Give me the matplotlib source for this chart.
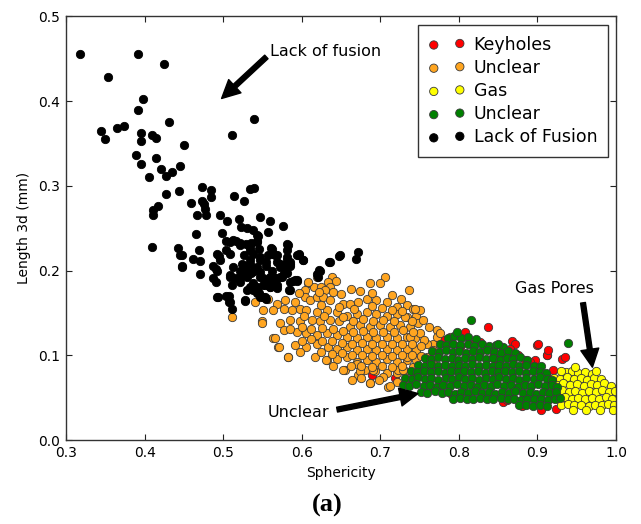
import matplotlib
matplotlib.use('Agg')
import matplotlib.pyplot as plt

# ---------------- data (sphericity, length 3d [mm]) ----------------
keyhole_pts = [
    (0.808, 0.127), (0.837, 0.134), (0.827, 0.116), (0.818, 0.114), (0.867, 0.117),
    (0.871, 0.114), (0.865, 0.108), (0.899, 0.112), (0.912, 0.100), (0.931, 0.096),
    (0.935, 0.098), (0.920, 0.083), (0.856, 0.106), (0.861, 0.102), (0.844, 0.098),
    (0.848, 0.094), (0.884, 0.094), (0.897, 0.094), (0.801, 0.110), (0.767, 0.061),
    (0.791, 0.053), (0.856, 0.045), (0.861, 0.047), (0.912, 0.075), (0.916, 0.071),
    (0.933, 0.051), (0.924, 0.037), (0.689, 0.077), (0.719, 0.073), (0.901, 0.113),
    (0.912, 0.101), (0.969, 0.071), (0.890, 0.092), (0.875, 0.100), (0.880, 0.040),
    (0.905, 0.035), (0.780, 0.118), (0.945, 0.060), (0.913, 0.106),
]

unclear_orange_pts = [
    (0.638, 0.193), (0.644, 0.188), (0.634, 0.187), (0.706, 0.192), (0.700, 0.185), (0.687, 0.185),
    (0.737, 0.177), (0.674, 0.176), (0.608, 0.185), (0.615, 0.181), (0.604, 0.177), (0.625, 0.181),
    (0.636, 0.181), (0.630, 0.177), (0.640, 0.175), (0.604, 0.169), (0.611, 0.165), (0.619, 0.169),
    (0.627, 0.169), (0.636, 0.165), (0.591, 0.163), (0.579, 0.165), (0.568, 0.161), (0.557, 0.167),
    (0.541, 0.163), (0.653, 0.161), (0.661, 0.161), (0.672, 0.163), (0.683, 0.167), (0.695, 0.165),
    (0.708, 0.163), (0.721, 0.157), (0.734, 0.159), (0.742, 0.155), (0.746, 0.147), (0.551, 0.153),
    (0.564, 0.153), (0.577, 0.155), (0.587, 0.153), (0.598, 0.155), (0.606, 0.153), (0.619, 0.151),
    (0.632, 0.153), (0.645, 0.151), (0.657, 0.147), (0.670, 0.149), (0.683, 0.151), (0.695, 0.149),
    (0.708, 0.147), (0.721, 0.149), (0.734, 0.145), (0.549, 0.140), (0.572, 0.138), (0.585, 0.142),
    (0.598, 0.140), (0.613, 0.142), (0.623, 0.140), (0.636, 0.142), (0.647, 0.140), (0.661, 0.134),
    (0.674, 0.136), (0.687, 0.134), (0.700, 0.136), (0.712, 0.134), (0.725, 0.136), (0.738, 0.134),
    (0.748, 0.138), (0.564, 0.120), (0.577, 0.130), (0.594, 0.128), (0.606, 0.126), (0.619, 0.124),
    (0.632, 0.126), (0.645, 0.124), (0.657, 0.122), (0.670, 0.120), (0.683, 0.122), (0.695, 0.120),
    (0.708, 0.122), (0.721, 0.120), (0.734, 0.122), (0.744, 0.120), (0.570, 0.110), (0.591, 0.112),
    (0.606, 0.110), (0.619, 0.114), (0.634, 0.110), (0.645, 0.108), (0.657, 0.110), (0.670, 0.106),
    (0.683, 0.108), (0.695, 0.106), (0.708, 0.108), (0.721, 0.106), (0.734, 0.108), (0.746, 0.106),
    (0.583, 0.098), (0.617, 0.098), (0.632, 0.094), (0.645, 0.096), (0.657, 0.098), (0.670, 0.092),
    (0.683, 0.094), (0.695, 0.092), (0.708, 0.096), (0.721, 0.092), (0.734, 0.094), (0.655, 0.083),
    (0.672, 0.077), (0.681, 0.083), (0.693, 0.081), (0.708, 0.079), (0.721, 0.079), (0.731, 0.081),
    (0.687, 0.068), (0.710, 0.063), (0.721, 0.069), (0.511, 0.145), (0.549, 0.138), (0.571, 0.110),
    (0.582, 0.098), (0.566, 0.121), (0.619, 0.193), (0.608, 0.187), (0.631, 0.095), (0.653, 0.083),
    (0.670, 0.090), (0.687, 0.067), (0.712, 0.064), (0.674, 0.081), (0.691, 0.083), (0.704, 0.075),
    (0.723, 0.083), (0.742, 0.086), (0.759, 0.090), (0.772, 0.130), (0.767, 0.114), (0.751, 0.153),
    (0.744, 0.155), (0.731, 0.145), (0.772, 0.122), (0.776, 0.126), (0.729, 0.130), (0.738, 0.122),
    (0.751, 0.126), (0.759, 0.114), (0.767, 0.106), (0.734, 0.098), (0.746, 0.094), (0.759, 0.098),
    (0.767, 0.090), (0.729, 0.083), (0.742, 0.075), (0.789, 0.122),
    (0.596, 0.173), (0.622, 0.175), (0.650, 0.172), (0.663, 0.178), (0.690, 0.174), (0.715, 0.171),
    (0.726, 0.166), (0.625, 0.159), (0.648, 0.157), (0.666, 0.155), (0.689, 0.158), (0.702, 0.156),
    (0.715, 0.154), (0.728, 0.152), (0.740, 0.141), (0.603, 0.146), (0.628, 0.146), (0.652, 0.145),
    (0.665, 0.141), (0.678, 0.143), (0.691, 0.141), (0.704, 0.142), (0.717, 0.141), (0.754, 0.142),
    (0.762, 0.134), (0.585, 0.131), (0.600, 0.133), (0.612, 0.131), (0.626, 0.132), (0.640, 0.131),
    (0.652, 0.129), (0.665, 0.127), (0.678, 0.129), (0.691, 0.127), (0.704, 0.128), (0.717, 0.127),
    (0.742, 0.128), (0.756, 0.118), (0.600, 0.117), (0.612, 0.119), (0.626, 0.117), (0.639, 0.117),
    (0.651, 0.115), (0.664, 0.114), (0.677, 0.115), (0.689, 0.113), (0.702, 0.114), (0.715, 0.113),
    (0.727, 0.114), (0.740, 0.113), (0.752, 0.111), (0.598, 0.104), (0.625, 0.104), (0.638, 0.102),
    (0.651, 0.103), (0.664, 0.100), (0.677, 0.101), (0.689, 0.099), (0.702, 0.100), (0.715, 0.099),
    (0.727, 0.101), (0.740, 0.100), (0.752, 0.099), (0.640, 0.088), (0.663, 0.087), (0.676, 0.087),
    (0.689, 0.086), (0.702, 0.087), (0.715, 0.086), (0.727, 0.088), (0.748, 0.080), (0.664, 0.071),
    (0.676, 0.073), (0.698, 0.071), (0.733, 0.070),
]

gas_pts = [
    (0.936, 0.080), (0.944, 0.081), (0.952, 0.079), (0.961, 0.080), (0.970, 0.078),
    (0.921, 0.073), (0.929, 0.072), (0.938, 0.074), (0.947, 0.072), (0.955, 0.073), (0.963, 0.071),
    (0.972, 0.073), (0.981, 0.072), (0.916, 0.066), (0.925, 0.065), (0.933, 0.067), (0.942, 0.065),
    (0.950, 0.066), (0.959, 0.064), (0.968, 0.066), (0.976, 0.065), (0.985, 0.067), (0.993, 0.064),
    (0.914, 0.058), (0.922, 0.057), (0.931, 0.059), (0.940, 0.057), (0.948, 0.058), (0.957, 0.056),
    (0.965, 0.058), (0.974, 0.057), (0.982, 0.059), (0.991, 0.057), (0.999, 0.058), (0.918, 0.050),
    (0.927, 0.049), (0.935, 0.051), (0.944, 0.049), (0.952, 0.050), (0.961, 0.048), (0.970, 0.050),
    (0.978, 0.049), (0.987, 0.051), (0.995, 0.049), (0.930, 0.042), (0.939, 0.043), (0.947, 0.041),
    (0.956, 0.042), (0.965, 0.040), (0.973, 0.042), (0.982, 0.041), (0.990, 0.043), (0.998, 0.041),
    (0.945, 0.036), (0.962, 0.035), (0.980, 0.036), (0.996, 0.035), (0.948, 0.086), (0.975, 0.082),
    (0.930, 0.081),
]

unclear_green_pts = [
    (0.786, 0.121), (0.794, 0.123), (0.803, 0.120), (0.812, 0.122), (0.822, 0.119), (0.798, 0.127),
    (0.776, 0.113), (0.784, 0.112), (0.793, 0.114), (0.801, 0.112), (0.811, 0.113), (0.819, 0.111),
    (0.829, 0.113), (0.838, 0.111), (0.847, 0.112), (0.856, 0.110),
    (0.766, 0.105), (0.775, 0.104), (0.783, 0.106), (0.792, 0.104), (0.800, 0.105), (0.809, 0.103),
    (0.818, 0.105), (0.827, 0.104), (0.836, 0.106), (0.845, 0.104), (0.853, 0.103), (0.862, 0.105),
    (0.871, 0.103),
    (0.757, 0.097), (0.765, 0.096), (0.774, 0.098), (0.782, 0.096), (0.791, 0.097), (0.799, 0.095),
    (0.808, 0.097), (0.817, 0.096), (0.826, 0.098), (0.834, 0.096), (0.843, 0.097), (0.852, 0.095),
    (0.861, 0.097), (0.869, 0.096), (0.878, 0.098), (0.887, 0.095),
    (0.748, 0.089), (0.757, 0.088), (0.765, 0.090), (0.773, 0.088), (0.782, 0.089), (0.791, 0.087),
    (0.800, 0.089), (0.808, 0.088), (0.817, 0.090), (0.825, 0.088), (0.834, 0.089), (0.843, 0.087),
    (0.851, 0.089), (0.860, 0.088), (0.869, 0.090), (0.877, 0.088), (0.886, 0.089), (0.895, 0.087),
    (0.904, 0.088),
    (0.739, 0.081), (0.747, 0.080), (0.756, 0.082), (0.764, 0.080), (0.773, 0.081), (0.782, 0.079),
    (0.790, 0.081), (0.799, 0.080), (0.807, 0.082), (0.816, 0.080), (0.824, 0.081), (0.833, 0.079),
    (0.842, 0.081), (0.850, 0.080), (0.859, 0.082), (0.868, 0.080), (0.876, 0.081), (0.885, 0.079),
    (0.894, 0.081), (0.903, 0.080), (0.911, 0.079),
    (0.731, 0.073), (0.740, 0.072), (0.748, 0.074), (0.757, 0.072), (0.765, 0.073), (0.774, 0.071),
    (0.783, 0.073), (0.791, 0.072), (0.800, 0.074), (0.808, 0.072), (0.817, 0.073), (0.826, 0.071),
    (0.834, 0.073), (0.843, 0.072), (0.851, 0.074), (0.860, 0.072), (0.869, 0.073), (0.877, 0.071),
    (0.886, 0.073), (0.895, 0.072), (0.903, 0.074), (0.912, 0.072), (0.919, 0.071),
    (0.729, 0.065), (0.737, 0.064), (0.746, 0.066), (0.755, 0.064), (0.763, 0.065), (0.772, 0.063),
    (0.780, 0.065), (0.789, 0.064), (0.798, 0.066), (0.806, 0.064), (0.815, 0.065), (0.823, 0.063),
    (0.832, 0.065), (0.841, 0.064), (0.849, 0.066), (0.858, 0.064), (0.866, 0.065), (0.875, 0.063),
    (0.884, 0.065), (0.892, 0.064), (0.901, 0.066), (0.909, 0.064), (0.918, 0.065), (0.925, 0.063),
    (0.752, 0.057), (0.760, 0.056), (0.769, 0.058), (0.778, 0.056), (0.786, 0.057), (0.795, 0.055),
    (0.803, 0.057), (0.812, 0.056), (0.821, 0.058), (0.829, 0.056), (0.838, 0.057), (0.846, 0.055),
    (0.855, 0.057), (0.864, 0.056), (0.872, 0.058), (0.881, 0.056), (0.890, 0.057), (0.898, 0.055),
    (0.907, 0.057), (0.915, 0.056), (0.924, 0.057),
    (0.792, 0.049), (0.801, 0.050), (0.810, 0.048), (0.818, 0.049), (0.827, 0.050), (0.836, 0.048),
    (0.844, 0.049), (0.853, 0.050), (0.862, 0.048), (0.870, 0.049), (0.879, 0.047), (0.887, 0.049),
    (0.896, 0.048), (0.905, 0.049), (0.913, 0.047), (0.922, 0.049), (0.929, 0.050),
    (0.876, 0.041), (0.885, 0.042), (0.894, 0.040), (0.903, 0.041), (0.912, 0.040),
    (0.816, 0.142), (0.939, 0.115), (0.850, 0.113),
]

lack_of_fusion_pts = [
    (0.318, 0.456), (0.391, 0.456), (0.425, 0.444), (0.353, 0.428), (0.398, 0.402), (0.391, 0.390),
    (0.431, 0.375), (0.345, 0.365), (0.349, 0.355), (0.365, 0.368), (0.374, 0.370), (0.395, 0.362),
    (0.396, 0.353), (0.409, 0.360), (0.414, 0.356), (0.450, 0.348), (0.389, 0.336), (0.395, 0.326),
    (0.414, 0.333), (0.421, 0.320), (0.427, 0.312), (0.435, 0.316), (0.445, 0.323), (0.406, 0.310),
    (0.444, 0.294), (0.473, 0.299), (0.485, 0.295), (0.511, 0.360), (0.539, 0.379), (0.484, 0.287),
    (0.459, 0.280), (0.473, 0.282), (0.476, 0.278), (0.477, 0.273), (0.514, 0.288), (0.526, 0.282),
    (0.534, 0.296), (0.539, 0.297), (0.467, 0.266), (0.478, 0.265), (0.496, 0.265), (0.505, 0.259),
    (0.520, 0.261), (0.547, 0.263), (0.559, 0.258), (0.576, 0.253), (0.523, 0.252), (0.530, 0.250),
    (0.538, 0.248), (0.557, 0.246), (0.499, 0.244), (0.465, 0.243), (0.544, 0.241), (0.504, 0.235),
    (0.513, 0.236), (0.543, 0.235), (0.521, 0.232), (0.529, 0.231), (0.536, 0.233), (0.561, 0.227),
    (0.581, 0.231), (0.469, 0.224), (0.445, 0.218), (0.462, 0.214), (0.471, 0.211), (0.492, 0.220),
    (0.495, 0.217), (0.504, 0.224), (0.509, 0.220), (0.534, 0.224), (0.538, 0.220), (0.545, 0.226),
    (0.557, 0.218), (0.568, 0.218), (0.572, 0.208), (0.581, 0.212), (0.585, 0.206), (0.596, 0.218),
    (0.602, 0.212), (0.448, 0.205), (0.487, 0.206), (0.491, 0.202), (0.513, 0.204), (0.521, 0.200),
    (0.528, 0.206), (0.539, 0.200), (0.547, 0.198), (0.575, 0.206), (0.580, 0.200), (0.471, 0.196),
    (0.509, 0.195), (0.515, 0.191), (0.530, 0.193), (0.536, 0.197), (0.551, 0.191), (0.560, 0.193),
    (0.566, 0.189), (0.572, 0.193), (0.589, 0.188), (0.594, 0.188), (0.487, 0.191), (0.491, 0.187),
    (0.521, 0.187), (0.534, 0.181), (0.543, 0.181), (0.551, 0.183), (0.560, 0.181), (0.566, 0.185),
    (0.584, 0.177), (0.493, 0.169), (0.504, 0.170), (0.507, 0.163), (0.528, 0.164), (0.538, 0.177),
    (0.545, 0.173), (0.551, 0.169), (0.511, 0.155), (0.622, 0.201), (0.620, 0.196), (0.635, 0.210),
    (0.648, 0.217), (0.671, 0.222), (0.669, 0.214), (0.427, 0.290), (0.417, 0.276), (0.411, 0.272),
    (0.411, 0.265), (0.409, 0.228), (0.443, 0.227), (0.448, 0.218), (0.448, 0.204),
    (0.543, 0.242), (0.543, 0.234), (0.534, 0.228), (0.496, 0.212), (0.492, 0.200), (0.509, 0.234),
    (0.516, 0.235), (0.521, 0.230), (0.524, 0.208), (0.534, 0.208), (0.530, 0.200), (0.543, 0.204),
    (0.547, 0.212), (0.583, 0.230), (0.581, 0.224), (0.596, 0.220), (0.602, 0.213), (0.562, 0.226),
    (0.566, 0.218), (0.555, 0.210), (0.568, 0.210), (0.577, 0.206), (0.585, 0.210), (0.509, 0.193),
    (0.521, 0.193), (0.511, 0.183), (0.543, 0.179), (0.553, 0.183), (0.560, 0.189), (0.566, 0.191),
    (0.568, 0.183), (0.575, 0.193), (0.581, 0.197), (0.585, 0.187), (0.594, 0.189), (0.623, 0.200),
    (0.492, 0.169), (0.507, 0.170), (0.509, 0.163), (0.528, 0.165), (0.547, 0.169), (0.555, 0.167),
    (0.526, 0.218), (0.534, 0.212), (0.547, 0.216), (0.564, 0.220), (0.581, 0.216), (0.594, 0.218),
    (0.555, 0.206), (0.562, 0.200), (0.572, 0.204), (0.585, 0.208), (0.577, 0.197), (0.591, 0.189),
    (0.564, 0.193), (0.547, 0.193), (0.530, 0.197), (0.538, 0.185), (0.530, 0.177), (0.543, 0.173),
    (0.560, 0.181), (0.568, 0.179), (0.585, 0.177), (0.553, 0.169), (0.621, 0.193), (0.636, 0.210),
    (0.649, 0.218),
]

series_labels = ['Keyholes', 'Unclear', 'Gas', 'Unclear', 'Lack of Fusion']
series_colors = ['red', '#ffa520', 'yellow', 'green', 'black']
x_ticks = [0.3, 0.4, 0.5, 0.6, 0.7, 0.8, 0.9, 1.0]
y_ticks = [0.0, 0.1, 0.2, 0.3, 0.4, 0.5]

# ---------------- figure ----------------
fig = plt.figure(figsize=(6.41, 5.24), dpi=100)
ax = fig.add_axes([0.103, 0.160, 0.858, 0.809])

all_series = [keyhole_pts, unclear_orange_pts, gas_pts, unclear_green_pts, lack_of_fusion_pts]
for pts, lab, col in zip(all_series, series_labels, series_colors):
    xs = [p[0] for p in pts]
    ys = [p[1] for p in pts]
    ec = 'black' if col == 'black' else '#3a3a3a'
    ax.scatter(xs, ys, s=36, c=col, edgecolors=ec, linewidths=0.6, label=lab, zorder=2)

ax.set_xlim(0.3, 1.0)
ax.set_ylim(0.0, 0.5)
ax.set_xticks(x_ticks)
ax.set_yticks(y_ticks)
ax.set_xticklabels([f'{t:.1f}' for t in x_ticks])
ax.set_yticklabels([f'{t:.1f}' for t in y_ticks])
ax.tick_params(direction='in', top=True, right=True, length=4, width=0.8,
               labelsize=10, pad=4, colors='#222222', labelcolor='black')
for sp in ax.spines.values():
    sp.set_linewidth(1.0)
    sp.set_color('#333333')

ax.set_xlabel('Sphericity', fontsize=10)
ax.set_ylabel('Length 3d (mm)', fontsize=10)
ax.xaxis.set_label_coords(0.5, -0.062)
ax.yaxis.set_label_coords(-0.064, 0.5)

leg = ax.legend(loc='upper right', bbox_to_anchor=(0.985, 0.979), borderaxespad=0,
                scatterpoints=2, fontsize=12.5, frameon=True, fancybox=False,
                framealpha=1, edgecolor='#333333', labelspacing=0.3,
                handlelength=2.1, handletextpad=0.5, borderpad=0.6)
leg.get_frame().set_linewidth(1.0)

arrow_kw = dict(facecolor='black', edgecolor='black', width=3.5, headwidth=13,
                headlength=13, shrink=0)
ax.annotate('', xy=(0.498, 0.403), xytext=(0.555, 0.452), arrowprops=arrow_kw)
ax.text(0.560, 0.459, 'Lack of fusion', fontsize=11.5, va='center', ha='left')

ax.annotate('', xy=(0.970, 0.086), xytext=(0.958, 0.162), arrowprops=arrow_kw)
ax.text(0.871, 0.179, 'Gas Pores', fontsize=11.5, va='center', ha='left')

ax.annotate('', xy=(0.748, 0.055), xytext=(0.645, 0.036), arrowprops=arrow_kw)
ax.text(0.557, 0.033, 'Unclear', fontsize=11.5, va='center', ha='left')

fig.text(0.51, 0.036, '(a)', ha='center', va='center', fontsize=19,
         fontweight='bold', family='Liberation Serif')

fig.savefig('out.png', dpi=100)
